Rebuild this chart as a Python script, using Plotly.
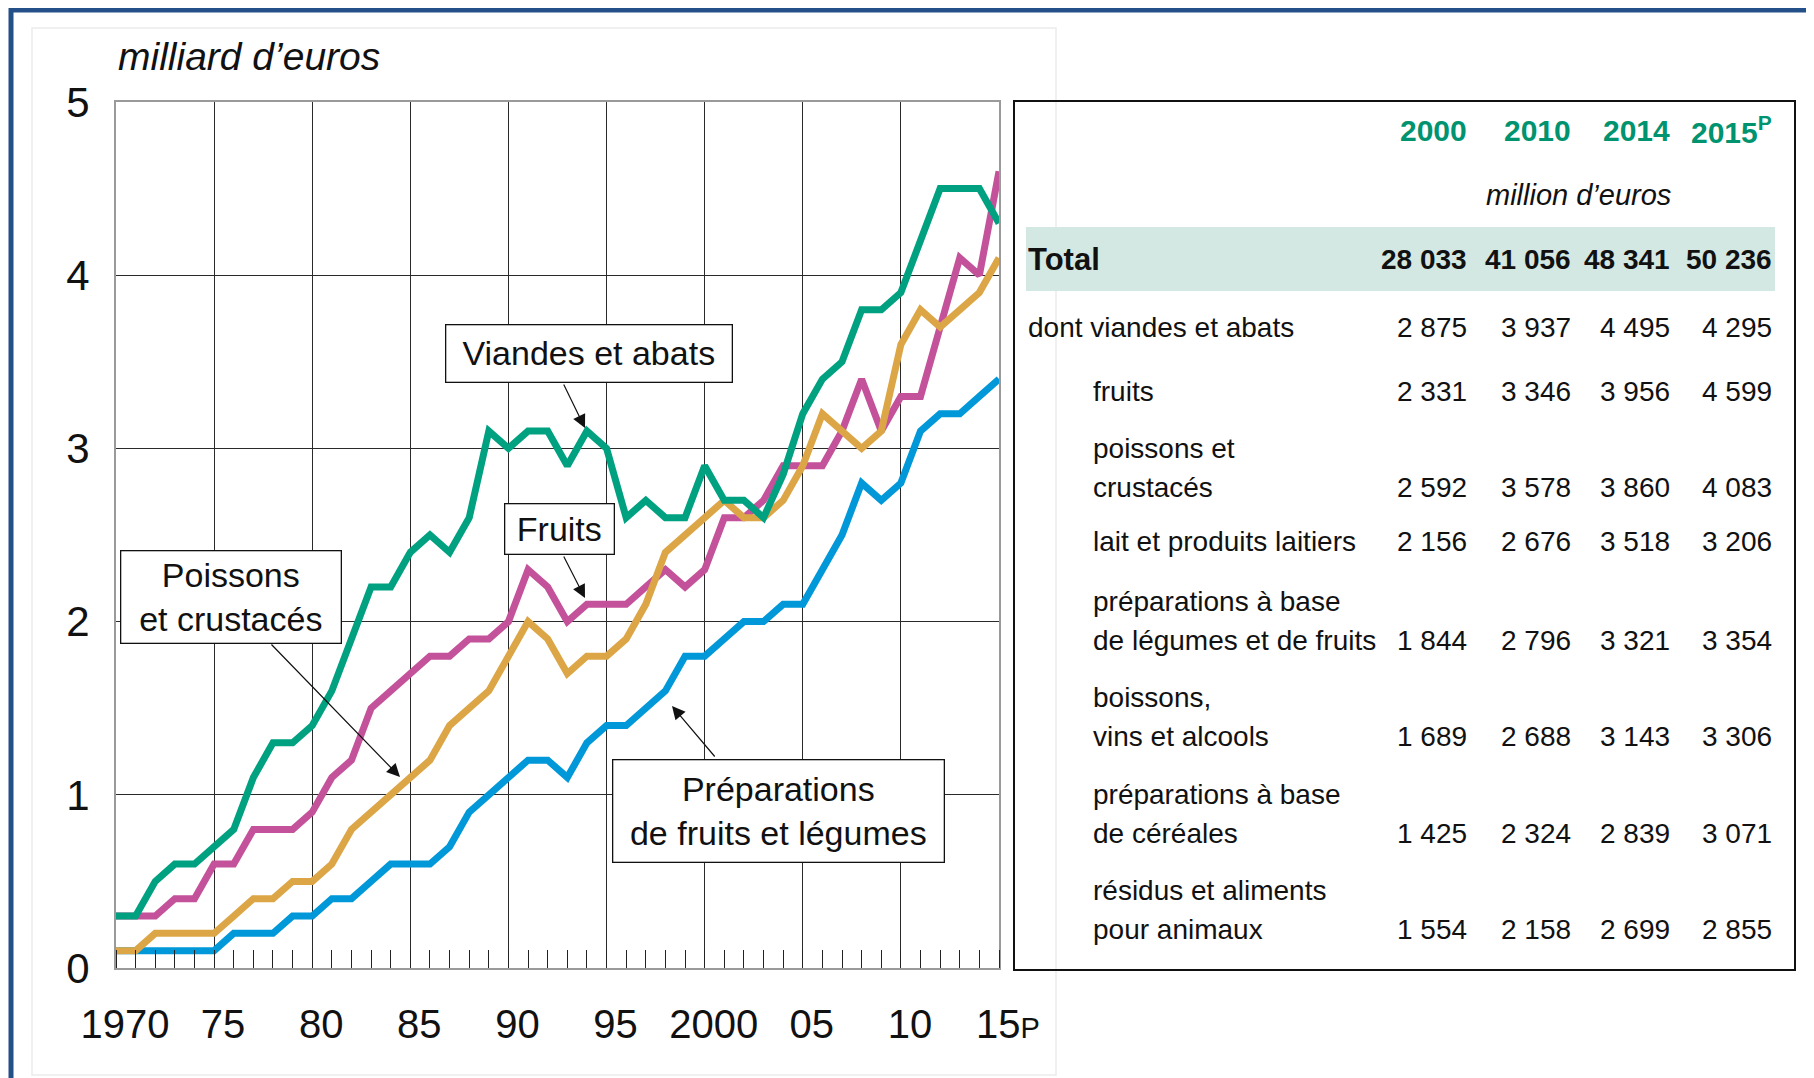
import plotly.graph_objects as go

# valeurs (milliard d'euros)
years = list(range(1970, 2016))
viandes = [0.3, 0.3, 0.5, 0.6, 0.6, 0.7, 0.8, 1.1, 1.3, 1.3,
           1.4, 1.6, 1.9, 2.2, 2.2, 2.4, 2.5, 2.4, 2.6, 3.1,
           3.0, 3.1, 3.1, 2.9, 3.1, 3.0, 2.6, 2.7, 2.6, 2.6,
           2.9, 2.7, 2.7, 2.6, 2.85, 3.2, 3.4, 3.5, 3.8, 3.8,
           3.9, 4.2, 4.5, 4.5, 4.5, 4.3]
fruits = [0.3, 0.3, 0.3, 0.4, 0.4, 0.6, 0.6, 0.8, 0.8, 0.8,
          0.9, 1.1, 1.2, 1.5, 1.6, 1.7, 1.8, 1.8, 1.9, 1.9,
          2.0, 2.3, 2.2, 2.0, 2.1, 2.1, 2.1, 2.2, 2.3, 2.2,
          2.3, 2.6, 2.6, 2.7, 2.9, 2.9, 2.9, 3.1, 3.4, 3.1,
          3.3, 3.3, 3.7, 4.1, 4.0, 4.6]
poissons = [0.1, 0.1, 0.2, 0.2, 0.2, 0.2, 0.3, 0.4, 0.4, 0.5,
            0.5, 0.6, 0.8, 0.9, 1.0, 1.1, 1.2, 1.4, 1.5, 1.6,
            1.8, 2.0, 1.9, 1.7, 1.8, 1.8, 1.9, 2.1, 2.4, 2.5,
            2.6, 2.7, 2.6, 2.6, 2.7, 2.9, 3.2, 3.1, 3.0, 3.1,
            3.6, 3.8, 3.7, 3.8, 3.9, 4.1]
preparations = [0.1, 0.1, 0.1, 0.1, 0.1, 0.1, 0.2, 0.2, 0.2, 0.3,
                0.3, 0.4, 0.4, 0.5, 0.6, 0.6, 0.6, 0.7, 0.9, 1.0,
                1.1, 1.2, 1.2, 1.1, 1.3, 1.4, 1.4, 1.5, 1.6, 1.8,
                1.8, 1.9, 2.0, 2.0, 2.1, 2.1, 2.3, 2.5, 2.8, 2.7,
                2.8, 3.1, 3.2, 3.2, 3.3, 3.4]

x_tickvals = [1970, 1975, 1980, 1985, 1990, 1995, 2000, 2005, 2010, 2015]
x_ticktext = ["1970", "75", "80", "85", "90", "95", "2000", "05", "10",
              "15<span style='font-size:29px'>P</span>"]
y_tickvals = [0, 1, 2, 3, 4, 5]

# tableau (million d'euros)
table_years = ["2000", "2010", "2014", "2015<sup>P</sup>"]
total_values = [28033, 41056, 48341, 50236]
row_labels = [["dont viandes et abats"],
              ["fruits"],
              ["poissons et", "crustacés"],
              ["lait et produits laitiers"],
              ["préparations à base", "de légumes et de fruits"],
              ["boissons,", "vins et alcools"],
              ["préparations à base", "de céréales"],
              ["résidus et aliments", "pour animaux"]]
row_values = [[2875, 3937, 4495, 4295],
              [2331, 3346, 3956, 4599],
              [2592, 3578, 3860, 4083],
              [2156, 2676, 3518, 3206],
              [1844, 2796, 3321, 3354],
              [1689, 2688, 3143, 3306],
              [1425, 2324, 2839, 3071],
              [1554, 2158, 2699, 2855]]

# la page html ajoute une marge de 8 px autour du graphique
OFF = 8
W, H = 1814 - OFF, 1078 - OFF
FONT = "Liberation Sans, Arial, sans-serif"


def fx(p):
    return (p - OFF) / W


def fy(p):
    return 1 - (p - OFF) / H


def fmt(v):
    return f"{v:,}".replace(",", " ")


fig = go.Figure()
series = [("Préparations de fruits et légumes", preparations, "#0098D8"),
          ("Fruits", fruits, "#C4529B"),
          ("Poissons et crustacés", poissons, "#DCA647"),
          ("Viandes et abats", viandes, "#00A180")]
for name, vals, col in series:
    fig.add_trace(go.Scatter(x=years, y=vals, mode="lines", name=name,
                             line=dict(color=col, width=7)))

ann = []
ann.append(dict(text="<i>milliard d’euros</i>", x=fx(116), y=fy(57), xanchor="left",
                yanchor="middle", font=dict(size=39, family=FONT, color="#111")))

# étiquettes encadrées
boxes = [("Viandes et abats", 445, 324, 732, 382),
         ("Fruits", 504, 503, 614, 554),
         ("Poissons<br>et crustacés", 120, 550, 341, 643),
         ("Préparations<br>de fruits et légumes", 612, 759, 944, 862)]
for txt, x0, y0, x1, y1 in boxes:
    ann.append(dict(text=txt, x=fx((x0 + x1) / 2), y=fy((y0 + y1) / 2),
                    xanchor="center", yanchor="middle", width=x1 - x0 - 2, height=y1 - y0 - 2,
                    bordercolor="#111", borderwidth=1.3, borderpad=0, bgcolor="white",
                    font=dict(size=34, family=FONT, color="#111")))

arrows = [(585, 428, 563, 383), (585, 598, 563, 555), (400, 777, 270, 643), (672, 706, 716, 758)]
for hx, hy, tx, ty in arrows:
    ann.append(dict(text="", x=fx(hx), y=fy(hy), ax=tx - hx, ay=ty - hy, showarrow=True,
                    arrowhead=2, arrowsize=2.2, arrowwidth=1.2, arrowcolor="#111"))

# tableau
col_right = [1469, 1573, 1672, 1774]
for i, yr in enumerate(table_years):
    ann.append(dict(text=f"<b>{yr}</b>", x=fx(col_right[i]), y=fy(130), xanchor="right",
                    yanchor="middle", font=dict(size=30, family=FONT, color="#00936F")))
ann.append(dict(text="<i>million d’euros</i>", x=fx(1578), y=fy(195), xanchor="center",
                yanchor="middle", font=dict(size=29, family=FONT, color="#111")))
ann.append(dict(text="<b>Total</b>", x=fx(1026), y=fy(260), xanchor="left", yanchor="middle",
                font=dict(size=31, family=FONT, color="#111")))
for i, v in enumerate(total_values):
    ann.append(dict(text=f"<b>{fmt(v)}</b>", x=fx(col_right[i]), y=fy(260), xanchor="right",
                    yanchor="middle", font=dict(size=28, family=FONT, color="#111")))

row_y = [327, 391, 487, 541, 640, 736, 833, 929]
for r, (lines, vals) in enumerate(zip(row_labels, row_values)):
    lx = 1026 if r == 0 else 1091
    n = len(lines)
    for k, line in enumerate(lines):
        ann.append(dict(text=line, x=fx(lx), y=fy(row_y[r] - (n - 1 - k) * 39), xanchor="left",
                        yanchor="middle", font=dict(size=28, family=FONT, color="#111")))
    for i, v in enumerate(vals):
        ann.append(dict(text=fmt(v), x=fx(col_right[i]), y=fy(row_y[r]), xanchor="right",
                        yanchor="middle", font=dict(size=28, family=FONT, color="#111")))

for a in ann:
    a.setdefault("xref", "paper")
    a.setdefault("yref", "paper")
    a.setdefault("showarrow", False)

shapes = [
    dict(type="rect", xref="paper", yref="paper", x0=fx(32), x1=fx(1056), y0=fy(1075), y1=fy(28),
         line=dict(color="#ececec", width=1.5), layer="below"),
    dict(type="rect", xref="paper", yref="paper", x0=fx(1026), x1=fx(1775), y0=fy(291), y1=fy(227),
         fillcolor="#D3E8E2", line=dict(width=0)),
    dict(type="rect", xref="paper", yref="paper", x0=fx(1014), x1=fx(1795), y0=fy(970), y1=fy(101),
         line=dict(color="#111", width=2)),
    dict(type="rect", xref="paper", yref="paper", x0=fx(11), x1=fx(1810), y0=fy(1110), y1=fy(10),
         line=dict(color="#24508A", width=5)),
]

fig.update_layout(
    width=W, height=H,
    margin=dict(l=0, r=0, t=0, b=0, pad=0, autoexpand=False),
    paper_bgcolor="white", plot_bgcolor="white",
    showlegend=False,
    font=dict(family=FONT, color="#111"),
    annotations=ann,
    shapes=shapes,
    xaxis=dict(domain=[fx(116), fx(999)], range=[1970, 2015], tickmode="array",
               tickvals=x_tickvals, ticktext=x_ticktext, showgrid=True, gridcolor="#2a2a2a",
               gridwidth=1.3, showline=True, linecolor="#9a9a9a", linewidth=2, mirror=True,
               ticks="", zeroline=False, tickfont=dict(size=40, family=FONT, color="#111"),
               ticklabelstandoff=20, ticklabelshift=9, automargin=False,
               minor=dict(tickmode="array", tickvals=years, ticks="inside", ticklen=18,
                          tickwidth=1.4, tickcolor="#222", showgrid=False)),
    yaxis=dict(domain=[fy(968), fy(102)], range=[0, 5], tickmode="array", tickvals=y_tickvals,
               showgrid=True, gridcolor="#2a2a2a", gridwidth=1.3, showline=True,
               linecolor="#9a9a9a", linewidth=2, mirror=True, ticks="", zeroline=False,
               tickfont=dict(size=42, family=FONT, color="#111"), ticklabelstandoff=16,
               automargin=False),
)

fig.write_html("out.html")
